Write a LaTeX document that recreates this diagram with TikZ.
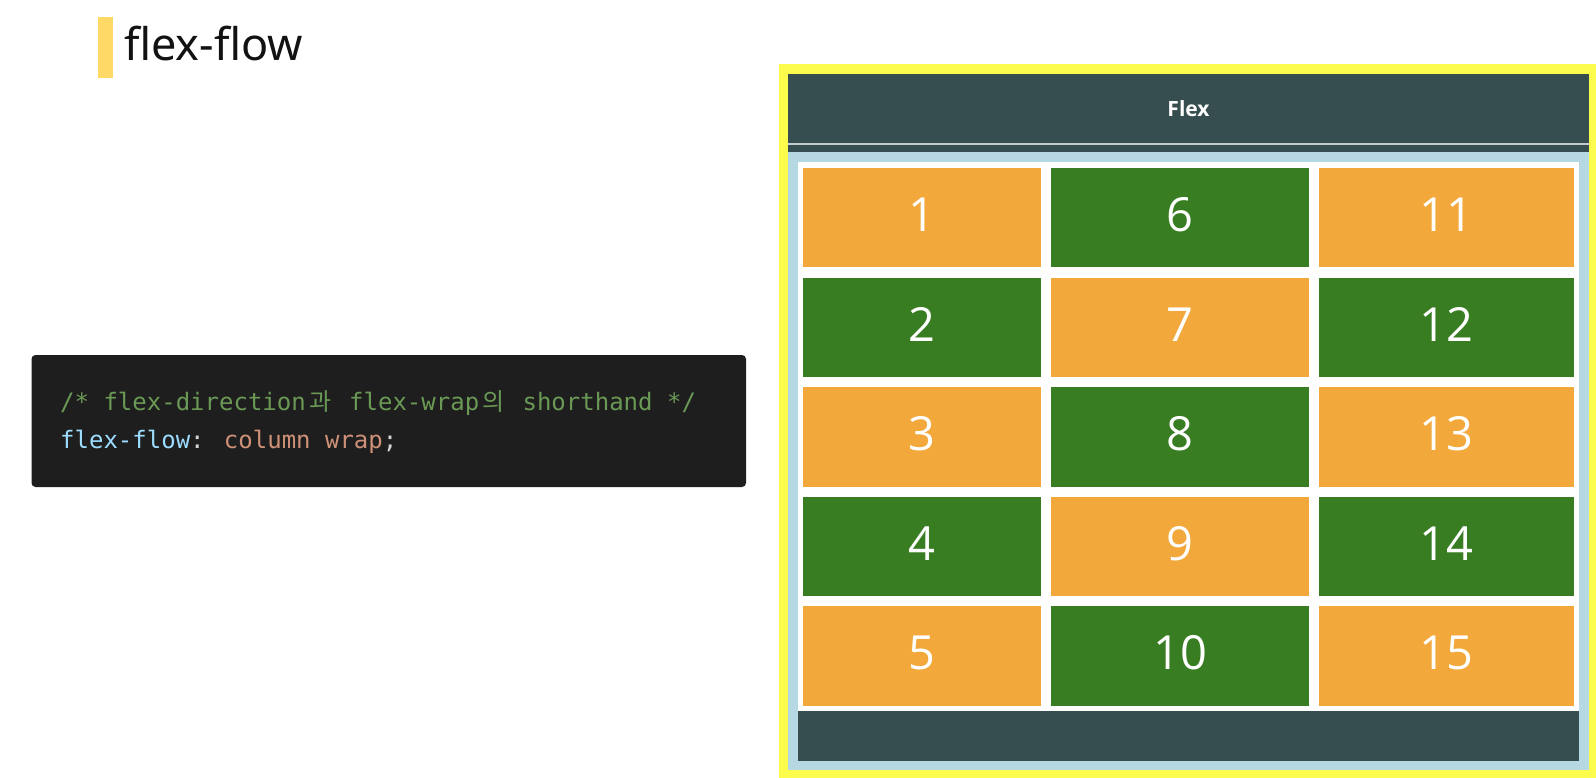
\documentclass[tikz,border=0pt]{standalone}
\usepackage{fontspec}
\setmainfont{Open Sans}
\newfontfamily\titlefont{Noto Sans}
\newfontfamily\codefont{DejaVu Sans Mono}
\newfontfamily\cjk{Noto Sans CJK KR}
\definecolor{titlebar}{HTML}{FFD966}
\definecolor{codebg}{HTML}{1E1E1E}
\definecolor{cmtgreen}{HTML}{6A9955}
\definecolor{propblue}{HTML}{9CDCFE}
\definecolor{valorange}{HTML}{CE9178}
\definecolor{punct}{HTML}{D4D4D4}
\definecolor{frameyellow}{HTML}{FCFC4C}
\definecolor{containerblue}{HTML}{B5D8E3}
\definecolor{headerdark}{HTML}{364E4F}
\definecolor{headerline}{HTML}{C4CCCC}
\definecolor{itemorange}{HTML}{F2A83B}
\definecolor{itemgreen}{HTML}{387D22}
\newcommand{\ko}[1]{\makebox[28.9pt]{\cjk #1}}
\begin{document}
\begin{tikzpicture}[
    x=1pt, y=-1pt,
    box/.style={rectangle, inner sep=0pt, draw=none},
    codeline/.style={inner sep=0pt, anchor=base west,
        font=\codefont\fontsize{24}{28}\selectfont},
    item/.style={rectangle, inner sep=0pt, minimum height=99.5pt, text=white,
        text height=34pt, text depth=6pt,
        font=\fontsize{47}{50}\selectfont},
    orangeitem/.style={item, fill=itemorange},
    greenitem/.style={item, fill=itemgreen},
    colone/.style={minimum width=238pt},
    coltwo/.style={minimum width=258pt},
    colthree/.style={minimum width=255pt}
]
\fill[white] (0,0) rectangle (1596,778);
\useasboundingbox (0,0) rectangle (1596,778);

% title
\node (TitleBar) [box, fill=titlebar, minimum width=15pt, minimum height=61pt]
    at (105.5,47.5) {};
\node (Title) [inner sep=0pt, anchor=base west, text=black!93,
    font=\titlefont\fontsize{45}{50}\selectfont] at (124,61) {flex-flow};

% code block
\node (CodeBox) [box, fill=codebg, rounded corners=4pt,
    minimum width=714.5pt, minimum height=132pt] at (388.75,421) {};
\node (CodeComment) [codeline, text=cmtgreen] at (60,410)
    {/* flex-direction\ko{과} flex-wrap\ko{의} shorthand */};
\node (CodeRule) [codeline] at (60,448)
    {\textcolor{propblue}{flex-flow}\textcolor{punct}{:}
     \textcolor{valorange}{column wrap}\textcolor{punct}{;}};

% flex container
\node (Frame) [box, fill=frameyellow, minimum width=817pt, minimum height=714pt]
    at (1187.5,421) {};
\node (Container) [box, fill=containerblue, minimum width=801pt, minimum height=696pt]
    at (1188.5,422) {};
\node (Header) [box, fill=headerdark, minimum width=801pt, minimum height=78pt]
    at (1188.5,113) {};
\node (HeaderText) [text=white, font=\bfseries\fontsize{21}{24}\selectfont]
    at (1188.5,108.5) {Flex};
\draw[headerline, line width=2pt] ([yshift=8pt]Header.south west)
    -- ([yshift=8pt]Header.south east);
\node (Inner) [box, fill=white, minimum width=781pt, minimum height=549pt]
    at (1188.5,436.5) {};
\node (Footer) [box, fill=headerdark, minimum width=781pt, minimum height=50pt]
    at (1188.5,736) {};

% items, column by column
\node (Item01) [orangeitem, colone] at (922,217.75) {1};
\node (Item02) [greenitem, colone] at (922,327.25) {2};
\node (Item03) [orangeitem, colone] at (922,436.75) {3};
\node (Item04) [greenitem, colone] at (922,546.25) {4};
\node (Item05) [orangeitem, colone] at (922,655.75) {5};
\node (Item06) [greenitem, coltwo] at (1180,217.75) {6};
\node (Item07) [orangeitem, coltwo] at (1180,327.25) {7};
\node (Item08) [greenitem, coltwo] at (1180,436.75) {8};
\node (Item09) [orangeitem, coltwo] at (1180,546.25) {9};
\node (Item10) [greenitem, coltwo] at (1180,655.75) {10};
\node (Item11) [orangeitem, colthree] at (1446.5,217.75) {11};
\node (Item12) [greenitem, colthree] at (1446.5,327.25) {12};
\node (Item13) [orangeitem, colthree] at (1446.5,436.75) {13};
\node (Item14) [greenitem, colthree] at (1446.5,546.25) {14};
\node (Item15) [orangeitem, colthree] at (1446.5,655.75) {15};

\end{tikzpicture}
\end{document}
